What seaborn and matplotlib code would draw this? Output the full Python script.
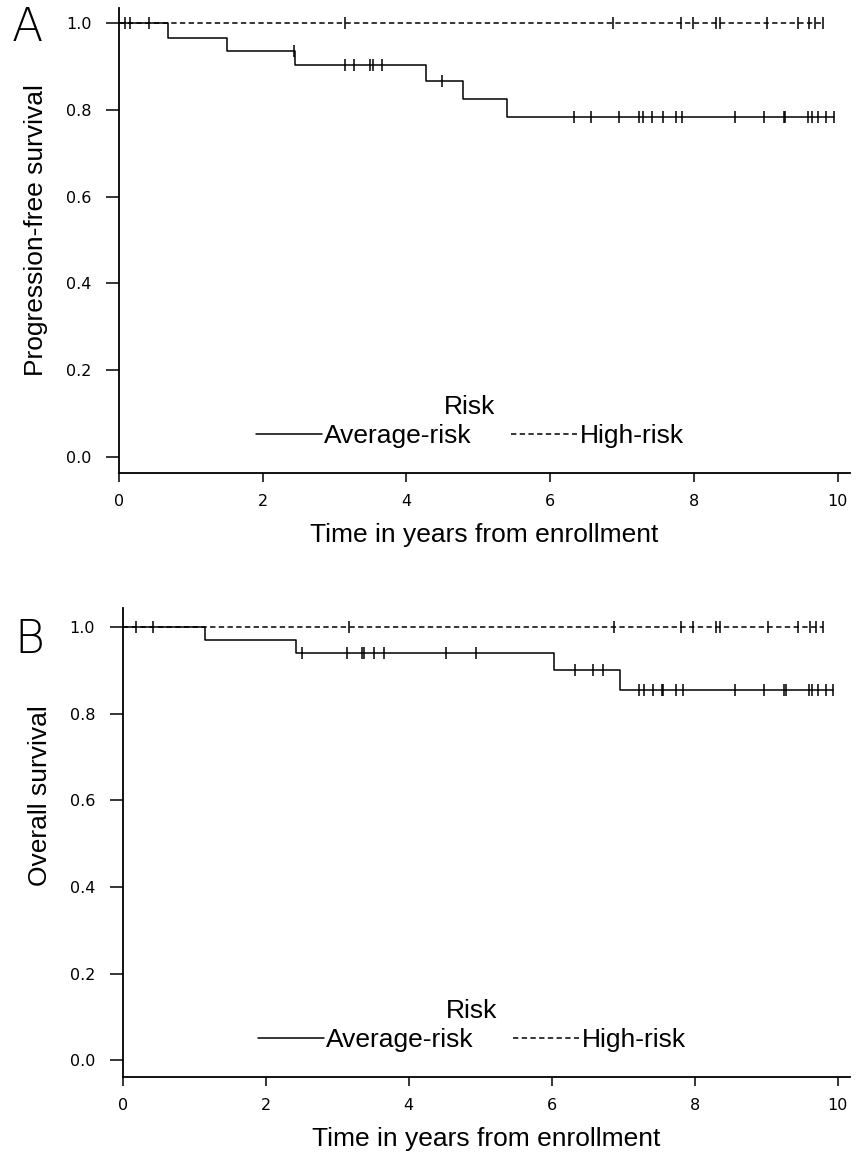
import numpy as np
import pandas as pd
import matplotlib
matplotlib.use('Agg')
import matplotlib.pyplot as plt
import seaborn as sns

# Panel A - progression-free survival, step curve per risk group
pfs_avg_times = [0, 0.68, 1.50, 2.45, 4.27, 4.78, 5.40, 9.95]
pfs_avg_surv = [1.0, 0.966, 0.936, 0.904, 0.866, 0.824, 0.783, 0.783]
pfs_avg_censor = [2.43, 3.14, 3.27, 3.49, 3.53, 3.66, 4.49, 6.33, 6.57, 6.96, 7.23, 7.29,
                  7.41, 7.57, 7.75, 7.83, 8.57, 8.97, 9.25, 9.27, 9.59, 9.64, 9.73, 9.83, 9.95]
pfs_high_times = [0, 9.79]
pfs_high_surv = [1.0, 1.0]
pfs_high_censor = [0.08, 0.15, 0.42, 3.15, 6.88, 7.82, 7.99, 8.30, 8.36, 9.02, 9.44, 9.60, 9.69, 9.79]

# Panel B - overall survival
os_avg_times = [0, 1.15, 2.42, 6.03, 6.96, 9.93]
os_avg_surv = [1.0, 0.970, 0.939, 0.900, 0.854, 0.854]
os_avg_censor = [2.51, 3.14, 3.34, 3.37, 3.52, 3.66, 4.52, 4.94, 6.32, 6.57, 6.72, 7.22, 7.29,
                 7.41, 7.54, 7.56, 7.74, 7.83, 8.56, 8.97, 9.25, 9.27, 9.59, 9.64, 9.72, 9.83, 9.93]
os_high_times = [0, 9.79]
os_high_surv = [1.0, 1.0]
os_high_censor = [0.18, 0.42, 3.16, 6.87, 7.81, 7.98, 8.29, 8.35, 9.02, 9.45, 9.61, 9.69, 9.79]

groups = ['Average-risk', 'High-risk']
x_ticks = [0, 2, 4, 6, 8, 10]
y_ticks = [0.0, 0.2, 0.4, 0.6, 0.8, 1.0]

sns.set_style('ticks')
plt.rcParams['font.family'] = ['Liberation Sans', 'DejaVu Sans']
plt.rcParams.update({'text.color': 'black', 'axes.labelcolor': 'black',
                     'xtick.color': 'black', 'ytick.color': 'black',
                     'axes.edgecolor': 'black'})


def km_frames(avg_t, avg_s, avg_c, high_t, high_s, high_c):
    curve = pd.concat([
        pd.DataFrame({'time': avg_t, 'surv': avg_s, 'Risk': groups[0]}),
        pd.DataFrame({'time': high_t, 'surv': high_s, 'Risk': groups[1]}),
    ], ignore_index=True)
    rows = []
    for name, t, s, c in [(groups[0], avg_t, avg_s, avg_c), (groups[1], high_t, high_s, high_c)]:
        idx = np.searchsorted(t, c, side='right') - 1
        for ci, i in zip(c, idx):
            rows.append({'time': ci, 'surv': s[i], 'Risk': name})
    return curve, pd.DataFrame(rows)


def draw_panel(ax, curve, cens, ylabel, ylim, label_y):
    sns.lineplot(data=curve, x='time', y='surv', style='Risk', style_order=groups,
                 dashes=['', (3.5, 2.2)], color='black', linewidth=1.1,
                 drawstyle='steps-post', estimator=None, sort=False, ax=ax)
    sns.scatterplot(data=cens, x='time', y='surv', marker='|', s=70, color='black',
                    linewidth=1.1, legend=False, ax=ax)
    ax.set_xlim(0, 10.17)
    ax.set_ylim(*ylim)
    ax.set_xticks(x_ticks)
    ax.set_yticks(y_ticks)
    ax.set_xticklabels([str(v) for v in x_ticks], family='DejaVu Sans', fontsize=11.5)
    ax.set_yticklabels([f'{v:.1f}' for v in y_ticks], family='DejaVu Sans', fontsize=11.5)
    ax.tick_params(axis='x', direction='out', length=6.5, width=1.1, pad=8.5)
    ax.tick_params(axis='y', direction='out', length=9.4, width=1.1, pad=10.5)
    ax.set_xlabel('Time in years from enrollment', fontsize=19, labelpad=10)
    ax.set_ylabel(ylabel, fontsize=19)
    ax.yaxis.set_label_coords(-0.097, label_y)
    sns.despine(ax=ax)
    for sp in ax.spines.values():
        sp.set_linewidth(1.3)
    ax.legend(title='Risk', ncol=2, frameon=False, loc='lower center',
              bbox_to_anchor=(0.48, 0.025), fontsize=19, title_fontsize=19,
              handlelength=2.5, columnspacing=1.5, handletextpad=0.08,
              labelspacing=0.2, borderpad=0)


fig = plt.figure(figsize=(8.59, 11.53), dpi=100)
ax_a = fig.add_axes([0.1385, 0.5898, 0.851, 0.4033])
ax_b = fig.add_axes([0.1428, 0.0659, 0.8467, 0.4068])

curve_a, cens_a = km_frames(pfs_avg_times, pfs_avg_surv, pfs_avg_censor,
                            pfs_high_times, pfs_high_surv, pfs_high_censor)
curve_b, cens_b = km_frames(os_avg_times, os_avg_surv, os_avg_censor,
                            os_high_times, os_high_surv, os_high_censor)

draw_panel(ax_a, curve_a, cens_a, 'Progression-free survival', (-0.0369, 1.0346), 0.523)
draw_panel(ax_b, curve_b, cens_b, 'Overall survival', (-0.039, 1.044), 0.60)

# panel letters
fig.text(0.013, 0.9644, 'A', fontsize=33, fontweight=200, color='black',
         family=['DejaVu Sans'], ha='left', va='baseline')
fig.text(0.017, 0.4337, 'B', fontsize=33, fontweight=200, color='black',
         family=['DejaVu Sans'], ha='left', va='baseline')

fig.savefig('out.png', dpi=100)
